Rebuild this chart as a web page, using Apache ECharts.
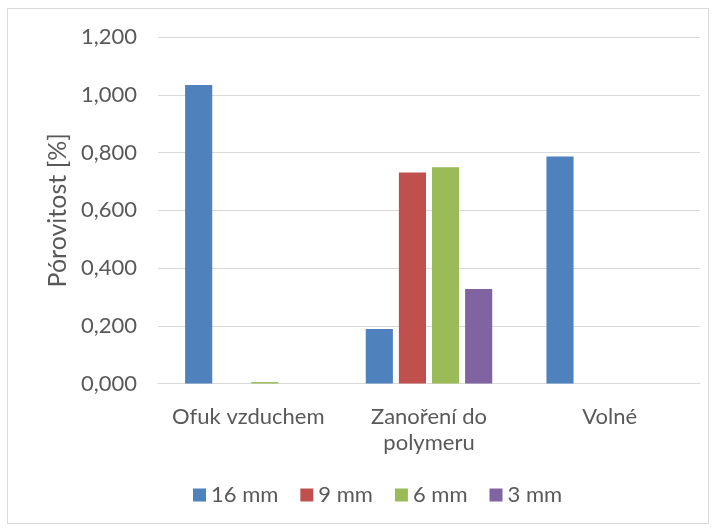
<!DOCTYPE html>
<html>
<head>
<meta charset="utf-8">
<script src="https://cdn.jsdelivr.net/npm/echarts@6/dist/echarts.min.js"></script>
<style>
  html, body { margin: 0; padding: 0; background: #fff; }
  #chart { width: 716px; height: 531px; }
</style>
</head>
<body>
<div id="chart"></div>
<script>
// Porosity by cooling method and specimen thickness
const categories = ['Ofuk vzduchem', 'Zanoření do\npolymeru', 'Volné'];
const seriesNames = ['16 mm', '9 mm', '6 mm', '3 mm'];
const values16 = [1.034, 0.189, 0.786];
const values9 = [0, 0.731, 0];
const values6 = [0.005, 0.749, 0];
const values3 = [0, 0.327, 0];
const yTicks = { min: 0, max: 1.2, interval: 0.2 };

const colors = ['#4F81BD', '#C0504D', '#9BBB59', '#8064A2'];
const font = 'Lato, "Open Sans", sans-serif';
const textColor = '#595959';

const chart = echarts.init(document.getElementById('chart'), null, { renderer: 'canvas' });

const seriesData = [values16, values9, values6, values3];

chart.setOption({
  animation: false,
  color: colors,
  textStyle: { fontFamily: font, color: textColor },
  graphic: [{
    type: 'rect',
    shape: { x: 7.5, y: 8.5, width: 701, height: 515 },
    style: { fill: 'none', stroke: '#d9d9d9', lineWidth: 1 },
    z: -1
  }],
  grid: { left: 158, right: 16, top: 37, bottom: 147.5, containLabel: false },
  legend: {
    top: 482,
    left: 193,
    padding: 0,
    itemWidth: 13,
    itemHeight: 13,
    itemGap: 22,
    icon: 'rect',
    textStyle: { fontFamily: font, fontSize: 22, color: textColor, lineHeight: 26 },
    data: seriesNames
  },
  xAxis: {
    type: 'category',
    data: categories,
    axisLine: { lineStyle: { color: '#d9d9d9', width: 1 } },
    axisTick: { show: false },
    axisLabel: { fontFamily: font, fontSize: 22, color: textColor, margin: 20, lineHeight: 26, interval: 0 }
  },
  yAxis: {
    type: 'value',
    min: yTicks.min,
    max: yTicks.max,
    interval: yTicks.interval,
    name: 'Pórovitost [%]',
    nameLocation: 'middle',
    nameGap: 79,
    nameTextStyle: { fontFamily: font, fontSize: 25, color: textColor },
    axisLine: { show: false },
    axisTick: { show: false },
    splitLine: { lineStyle: { color: '#d9d9d9', width: 1 } },
    axisLabel: {
      fontFamily: font, fontSize: 22, color: textColor, margin: 21,
      formatter: v => v.toFixed(3).replace('.', ',')
    }
  },
  series: seriesNames.map((name, i) => ({
    name,
    type: 'bar',
    data: seriesData[i],
    barGap: '22%',
    barCategoryGap: '30%',
    itemStyle: { color: colors[i] }
  }))
});
</script>
</body>
</html>
